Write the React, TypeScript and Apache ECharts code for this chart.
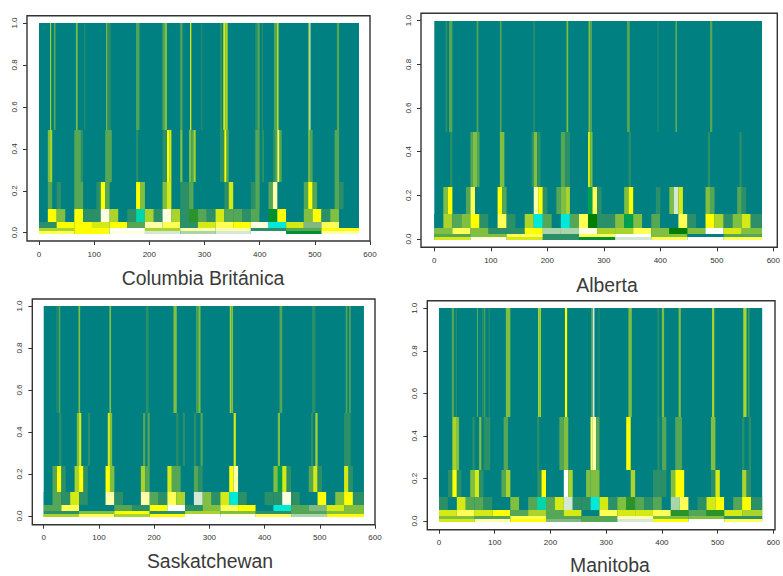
import React, { useEffect, useRef } from "react";
import * as echarts from "echarts";

const xTicks = [0, 100, 200, 300, 400, 500, 600];
const yTicks = [0, 0.2, 0.4, 0.6, 0.8, 1];
const bandEdges = [1, 0.49, 0.24, 0.115, 0.052, 0.022, 0.008, -0.004];
const denseWidths = [16, 32, 64, 64];
const xEnd = 580;

const palette = ["#008080", "#2B8F68", "#55A655", "#80BF40", "#AAD42B", "#D5E915", "#FFFF00", "#FFFF55", "#FFFFAA", "#FFFFDD", "#FFFFFF", "#00E8D8", "#00D4AA", "#00A050", "#009030", "#2A942A", "#007F00", "#D5E8D5", "#AAD4AA", "#80B880"];

// Sparse bands hold [from, to, level]; dense bands hold one level per cell.
const cbA = [[20,22,4],[27,30,2],[67,70,3],[82,84,1],[122,124,4],[124,130,1],[176,182,2],[224,228,2],[228,232,3],[256,260,2],[274,276,6],[294,296,1],[328,332,1],[334,338,5],[338,342,4],[392,396,1],[396,400,2],[404,406,1],[426,432,2],[432,434,6],[488,490,3],[490,492,8],[540,544,2]];
const cbB = [[16,20,3],[20,24,4],[64,76,2],[76,80,1],[120,132,2],[176,180,1],[224,232,1],[232,236,6],[236,240,5],[256,260,3],[272,276,3],[276,280,2],[280,284,4],[328,336,1],[336,340,6],[340,344,2],[392,400,2],[404,408,1],[424,428,1],[428,432,2],[432,436,7],[436,440,2],[488,492,3],[492,496,2],[536,544,2]];
const cbC = [[16,24,2],[32,40,1],[64,80,2],[104,112,1],[112,120,6],[120,128,2],[176,184,6],[184,192,3],[224,232,3],[232,240,5],[256,272,1],[272,280,2],[336,344,1],[344,352,5],[384,392,1],[392,400,2],[416,424,2],[424,432,8],[480,488,2],[488,496,6],[496,504,2],[536,544,2],[544,552,1]];
const cbD = [0,6,3,0,6,1,1,9,4,0,1,12,4,1,9,4,1,15,2,1,5,2,2,1,2,0,14,6,0,0,3,6,1,3,0,0];
const cbE = [1,6,6,5,6,2,8,7,1,5,7,6,9,11,5,19,7,0];
const cbF = [4,6,10,4,8,8,1,2,6];
const cbG = [7,6,9,17,18,17,10,14,8];

const abA = [[20,23,1],[26,32,2],[75,78,2],[116,119,2],[175,178,1],[234,237,3],[273,276,3],[276,279,2],[341,346,2],[395,397,1],[427,429,3],[488,492,2]];
const abB = [[28,32,1],[64,68,2],[68,76,3],[76,80,2],[116,124,3],[172,176,1],[176,182,3],[182,188,1],[224,232,2],[232,240,1],[272,276,5],[276,280,3],[344,348,1],[484,488,1],[540,544,1]];
const abC = [[16,24,3],[24,32,6],[56,64,2],[64,72,7],[112,120,6],[120,128,2],[176,184,8],[184,192,6],[192,200,1],[216,224,2],[224,232,3],[232,240,4],[272,280,13],[280,288,7],[288,296,1],[336,344,3],[344,352,6],[392,400,1],[416,424,3],[424,432,17],[432,440,5],[480,488,3],[488,496,2],[536,544,2],[544,552,1]];
const abD = [0,4,2,3,6,1,0,7,1,0,4,11,2,0,11,2,7,16,1,1,3,13,3,0,2,0,0,7,1,0,6,4,1,3,5,1];
const abE = [3,7,3,1,1,6,18,18,9,4,4,7,3,16,3,10,5,3];
const abF = [2,3,7,1,7,10,3,0,2];
const abG = [5,9,5,1,14,17,7,10,7];

const skA = [[23,25,1],[27,30,2],[63,66,3],[119,122,3],[185,190,1],[235,241,3],[276,279,2],[280,284,3],[337,340,4],[340,343,3],[427,432,2],[486,492,1],[547,550,2],[553,556,2]];
const skB = [[28,32,1],[60,64,3],[64,68,5],[80,84,1],[116,120,5],[120,124,3],[180,184,2],[188,192,2],[240,244,1],[252,256,1],[272,276,1],[284,288,2],[344,348,5],[424,428,3],[484,488,1],[492,496,4],[544,556,1]];
const skC = [[16,24,2],[24,32,6],[32,40,1],[56,64,4],[64,72,6],[72,80,1],[112,120,6],[120,128,3],[176,184,4],[184,192,2],[224,232,5],[232,248,2],[272,280,2],[280,288,1],[336,344,6],[344,352,8],[416,424,3],[424,432,13],[432,440,5],[440,448,1],[480,488,2],[488,496,5],[496,504,1],[544,552,5],[552,560,1]];
const skD = [0,2,1,5,1,0,0,8,1,0,0,8,2,1,7,4,0,17,3,1,5,11,1,0,0,1,1,9,1,0,0,6,0,3,6,1];
const skE = [2,7,0,0,2,1,6,10,1,3,7,6,0,11,2,19,5,3];
const skF = [1,3,6,1,4,3,1,2,3];
const skG = [4,7,4,6,10,9,7,18,6];

const mbA = [[23,27,2],[30,32,1],[68,70,2],[77,80,1],[81,83,2],[89,91,1],[120,128,3],[178,180,5],[180,183,4],[226,230,6],[273,276,2],[276,279,17],[286,288,1],[340,346,3],[392,395,1],[400,404,3],[430,434,3],[490,494,4],[546,552,4],[555,557,2]];
const mbB = [[24,32,4],[32,36,3],[60,64,1],[72,76,3],[80,92,1],[116,124,2],[176,180,1],[216,224,2],[224,232,3],[272,276,7],[276,282,8],[282,288,2],[336,344,6],[392,396,1],[400,408,2],[424,436,2],[488,496,3],[544,548,1],[556,560,1]];
const mbC = [[16,24,1],[24,32,6],[32,40,1],[56,64,3],[64,72,5],[72,80,1],[112,120,2],[120,128,4],[176,184,1],[184,192,6],[224,232,10],[232,240,4],[264,272,3],[272,288,3],[344,352,4],[384,400,1],[400,408,1],[416,424,3],[424,440,6],[488,496,1],[496,504,5],[544,552,4],[552,560,1]];
const mbD = [1,0,5,2,2,1,0,0,3,0,2,12,2,5,17,1,1,11,5,1,3,15,2,1,2,0,18,7,0,1,5,6,0,2,6,1];
const mbE = [5,7,5,6,2,4,2,5,0,7,5,5,7,15,2,15,5,4];
const mbF = [3,2,7,2,2,8,3,3,1];
const mbG = [5,8,6,19,2,17,6,10,7];

const names = ["Columbia Británica", "Alberta", "Saskatchewan", "Manitoba"];
const sparse = [[cbA, cbB, cbC], [abA, abB, abC], [skA, skB, skC], [mbA, mbB, mbC]];
const dense = [[cbD, cbE, cbF, cbG], [abD, abE, abF, abG], [skD, skE, skF, skG], [mbD, mbE, mbF, mbG]];

// Pixel layout: x0, x600, y1, y0 of the data scales; frame left, top, bottom; title centre.
const layout = [
  { x0: 39, x6: 370, y1: 23, y0: 232.7, fl: 27, ft: 15.7, fb: 241, tx: 203, ty: 268 },
  { x0: 434.3, x6: 777.3, y1: 20.7, y0: 239, fl: 421, ft: 13.3, fb: 247.3, tx: 607, ty: 275 },
  { x0: 43.7, x6: 375, y1: 306, y0: 516, fl: 32.3, ft: 299, fb: 524.7, tx: 210, ty: 551 },
  { x0: 439, x6: 775, y1: 308.3, y0: 521, fl: 427.3, ft: 300.7, fb: 529.7, tx: 610, ty: 555 },
];

function cellsFor(p: number) {
  const out: number[][] = [[0, xEnd, bandEdges[0], bandEdges[bandEdges.length - 1], 0]];
  sparse[p].forEach((band, b) => {
    band.forEach((c) => out.push([c[0], c[1], bandEdges[b], bandEdges[b + 1], c[2]]));
  });
  dense[p].forEach((band, b) => {
    const i = b + 3;
    band.forEach((lv, k) => {
      const from = k * denseWidths[b];
      const to = k === band.length - 1 ? xEnd : from + denseWidths[b];
      out.push([from, to, bandEdges[i], bandEdges[i + 1], lv]);
    });
  });
  return out;
}

const W = 783;
const H = 576;
const ink = "#333333";

export default function App() {
  const ref = useRef<HTMLDivElement>(null);
  useEffect(() => {
    const chart = echarts.init(ref.current!, undefined, { renderer: "svg" });
    const font = "'Liberation Sans', Arial, sans-serif";
    chart.setOption({
      animation: false,
      backgroundColor: "#ffffff",
      title: layout.map((l, i) => ({
        text: names[i],
        left: l.tx,
        top: l.ty,
        textAlign: "center",
        padding: 0,
        textStyle: { fontSize: 19.4, fontWeight: "normal", color: "#3a3a3a", fontFamily: font },
      })),
      grid: layout.map((l) => ({ left: l.x0, top: l.y1, width: l.x6 - l.x0, height: l.y0 - l.y1, containLabel: false })),
      xAxis: layout.map((l, i) => ({
        type: "value",
        gridIndex: i,
        min: xTicks[0],
        max: xTicks[xTicks.length - 1],
        interval: 100,
        position: "bottom",
        offset: l.fb - l.y0,
        axisLine: { show: false, onZero: false },
        axisTick: { show: true, length: 4, lineStyle: { color: ink, width: 1 } },
        axisLabel: { fontSize: 8, color: ink, margin: 9, fontFamily: font },
        splitLine: { show: false },
      })),
      yAxis: layout.map((l, i) => ({
        type: "value",
        gridIndex: i,
        min: yTicks[0],
        max: yTicks[yTicks.length - 1],
        interval: 0.2,
        position: "left",
        offset: l.x0 - l.fl,
        axisLine: { show: false, onZero: false },
        axisTick: { show: true, length: 4, lineStyle: { color: ink, width: 1 } },
        axisLabel: { fontSize: 8, color: ink, margin: 9, rotate: 90, fontFamily: font, formatter: (v: number) => v.toFixed(1) },
        splitLine: { show: false },
      })),
      series: layout.map((_, i) => ({
        type: "custom",
        xAxisIndex: i,
        yAxisIndex: i,
        clip: false,
        silent: true,
        data: cellsFor(i),
        encode: { x: [0, 1], y: [2, 3] },
        renderItem: (_p: any, api: any) => {
          const a = api.coord([api.value(0), api.value(2)]);
          const b = api.coord([api.value(1), api.value(3)]);
          const top = Math.round(a[1]);
          const bottom = Math.round(b[1]);
          return {
            type: "rect",
            shape: { x: a[0], y: top, width: b[0] - a[0], height: bottom - top },
            style: { fill: palette[api.value(4)] },
          };
        },
      })),
      graphic: layout.map((l) => ({
        type: "rect",
        silent: true,
        shape: { x: l.fl, y: l.ft, width: l.x6 - l.fl, height: l.fb - l.ft },
        style: { fill: "none", stroke: ink, lineWidth: 1.4 },
      })),
    });
    return () => chart.dispose();
  }, []);
  return <div ref={ref} style={{ position: "absolute", left: 0, top: 0, width: W, height: H }} />;
}
